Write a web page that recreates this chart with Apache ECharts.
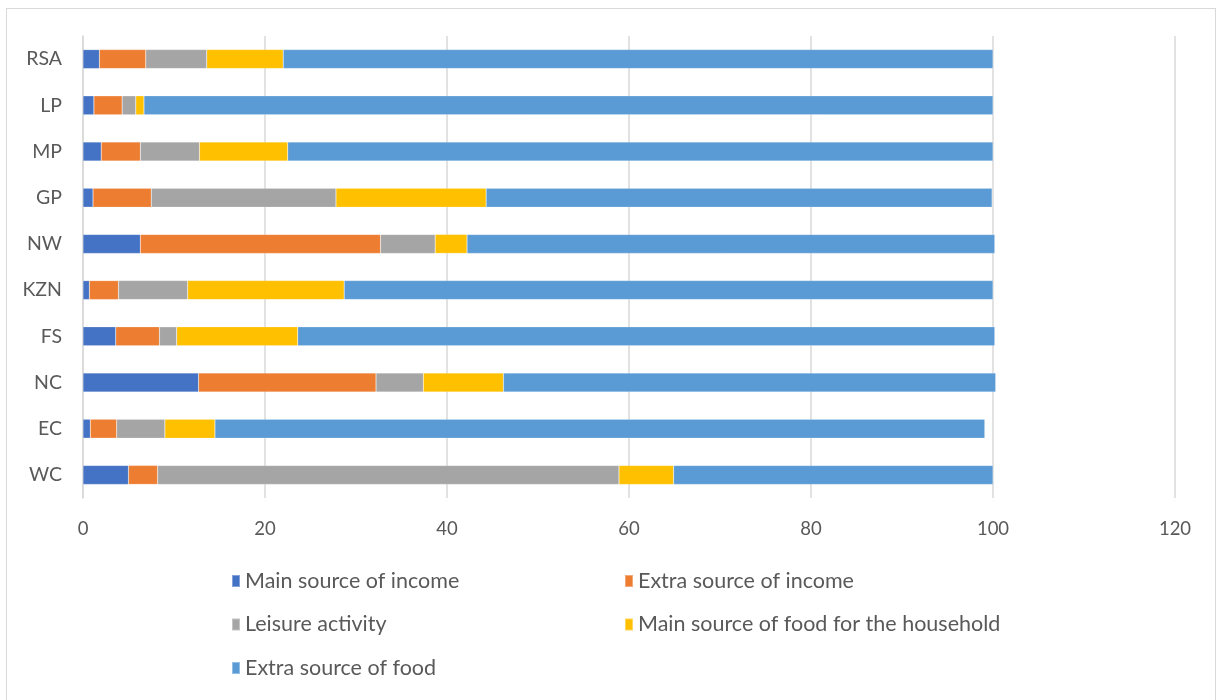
<!DOCTYPE html>
<html>
<head>
<meta charset="utf-8">
<script src="https://cdn.jsdelivr.net/npm/echarts@6/dist/echarts.min.js"></script>
<style>
  html, body { margin: 0; padding: 0; background: #fff; }
  #frame { position: absolute; left: 6px; top: 8px; width: 1210px; height: 720px; border: 1px solid #d9d9d9; box-sizing: border-box; }
  #chart { position: absolute; left: 0; top: 0; width: 1219px; height: 700px; }
</style>
</head>
<body>
<div id="frame"></div>
<div id="chart"></div>
<script>
// Provinces, bottom to top
const provinces = ['WC', 'EC', 'NC', 'FS', 'KZN', 'NW', 'GP', 'MP', 'LP', 'RSA'];

// Share of households (%) by purpose of agricultural activity
const mainIncome    = [5.0, 0.8, 12.7, 3.6, 0.7, 6.3, 1.1, 2.0, 1.2, 1.8];
const extraIncome   = [3.2, 2.9, 19.5, 4.8, 3.2, 26.4, 6.4, 4.3, 3.1, 5.1];
const leisure       = [50.7, 5.3, 5.2, 1.9, 7.6, 6.0, 20.3, 6.5, 1.5, 6.7];
const mainFood      = [6.0, 5.5, 8.8, 13.3, 17.2, 3.5, 16.5, 9.7, 0.9, 8.4];
const extraFood     = [35.1, 84.6, 54.1, 76.6, 71.3, 58.0, 55.6, 77.5, 93.3, 78.0];

const xTicks = { min: 0, max: 120, interval: 20 };

const seriesDefs = [
  { name: 'Main source of income', data: mainIncome, color: '#4472C4' },
  { name: 'Extra source of income', data: extraIncome, color: '#ED7D31' },
  { name: 'Leisure activity', data: leisure, color: '#A5A5A5' },
  { name: 'Main source of food for the household', data: mainFood, color: '#FFC000' },
  { name: 'Extra source of food', data: extraFood, color: '#5B9BD5' }
];

const font = 'Lato, "Open Sans", sans-serif';
const textColor = '#595959';

const chart = echarts.init(document.getElementById('chart'), null, { renderer: 'canvas' });

const legendCommon = {
  orient: 'vertical',
  itemWidth: 8,
  itemHeight: 12,
  itemGap: 21.5,
  icon: 'rect',
  textStyle: { color: textColor, fontSize: 21.5, lineHeight: 22, fontFamily: font, padding: [0, 0, 0, 0] }
};

chart.setOption({
  animation: false,
  color: seriesDefs.map(s => s.color),
  grid: { left: 83, right: 44, top: 36, bottom: 202, containLabel: false },
  legend: [
    Object.assign({}, legendCommon, {
      left: 226, top: 565,
      data: ['Main source of income', 'Leisure activity', 'Extra source of food']
    }),
    Object.assign({}, legendCommon, {
      left: 619, top: 565,
      data: ['Extra source of income', 'Main source of food for the household']
    })
  ],
  xAxis: {
    type: 'value',
    min: xTicks.min, max: xTicks.max, interval: xTicks.interval,
    axisLine: { show: false },
    axisTick: { show: false },
    splitLine: { show: true, lineStyle: { color: '#d9d9d9', width: 1.5 } },
    axisLabel: { color: textColor, fontSize: 18.5, fontFamily: font, margin: 22 }
  },
  yAxis: {
    type: 'category',
    data: provinces,
    axisLine: { show: true, lineStyle: { color: '#d9d9d9', width: 1.5 } },
    axisTick: { show: false },
    axisLabel: { color: textColor, fontSize: 19.5, fontFamily: font, margin: 21 }
  },
  series: seriesDefs.map(s => ({
    name: s.name,
    type: 'bar',
    stack: 'total',
    barWidth: 19,
    data: s.data,
    itemStyle: { color: s.color, borderColor: 'rgba(255,255,255,0.35)', borderWidth: 0.5 }
  }))
});
</script>
</body>
</html>
